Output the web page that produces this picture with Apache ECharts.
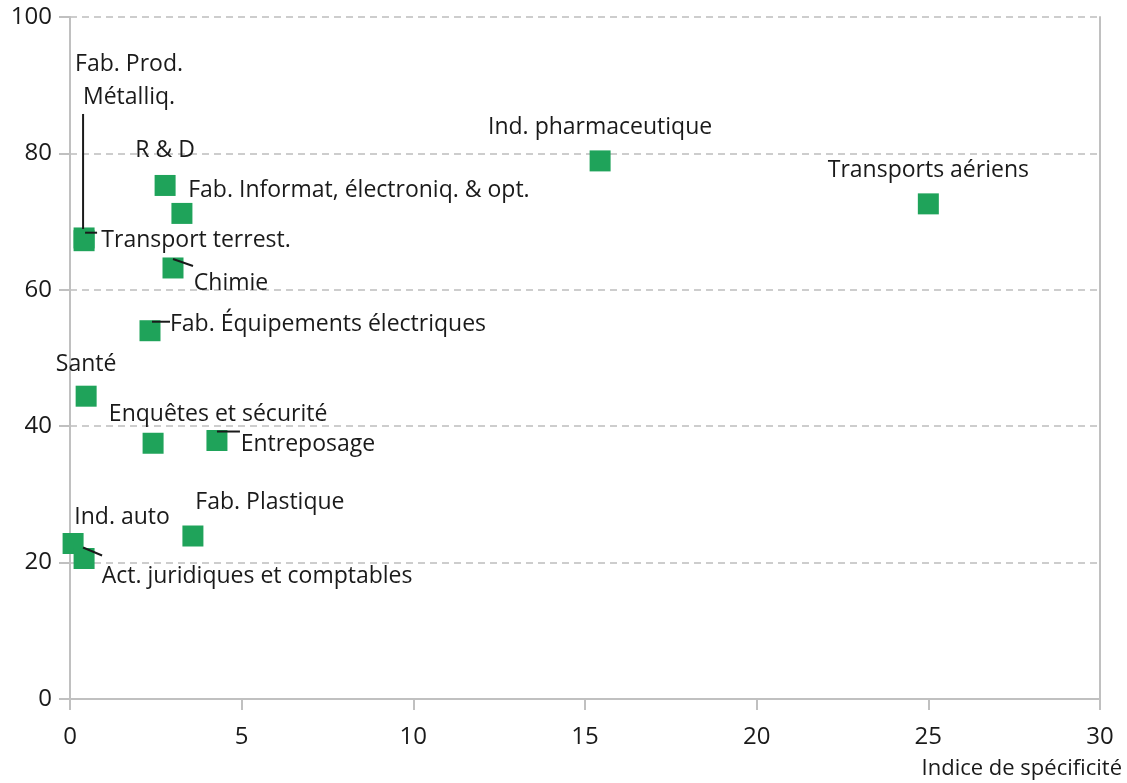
<!DOCTYPE html>
<html>
<head>
<meta charset="utf-8">
<script src="https://cdn.jsdelivr.net/npm/echarts@6/dist/echarts.min.js"></script>
<style>
html,body{margin:0;padding:0;background:#fff;}
#chart{width:1127px;height:783px;}
</style>
</head>
<body>
<div id="chart"></div>
<script>
// Data
const sectors = [
  "Fab. Prod.\nMétalliq.",
  "Transport terrest.",
  "R & D",
  "Fab. Informat, électroniq. & opt.",
  "Chimie",
  "Fab. Équipements électriques",
  "Santé",
  "Enquêtes et sécurité",
  "Entreposage",
  "Fab. Plastique",
  "Ind. auto",
  "Act. juridiques et comptables",
  "Ind. pharmaceutique",
  "Transports aériens"
];
const specificity = [0.41, 0.41, 2.77, 3.26, 3.0, 2.33, 0.47, 2.42, 4.28, 3.58, 0.09, 0.41, 15.44, 25.0];
const shareValues = [67.6, 67.2, 75.3, 71.2, 63.2, 54.0, 44.4, 37.5, 37.9, 23.9, 22.8, 20.6, 78.9, 72.6];
const xTicks = [0, 5, 10, 15, 20, 25, 30];
const yTicks = [0, 20, 40, 60, 80, 100];

// Label placement (pixel offsets of the label centre from the marker centre)
const labelOffsets = [
  [45, -157], [112, 0], [0, -35], [177, -23], [58, 15], [178, -6], [0, -32],
  [65, -29], [91, 4], [77, -34], [49, -26], [173, 18], [0, -33], [0, -33]
];
// Leader lines (pixel offsets from the marker centre: start, end), null = none
const leaderOffsets = [
  [[-1, -124], [-1, -9]], [[1, -8], [13, -8]], null, null, [[0, -9], [20, -2]],
  [[2, -9], [20, -9]], null, null, [[0, -9], [23, -9]], null, null,
  [[-1, -11], [18, -3]], null, null
];

const points = sectors.map((name, i) => ({ name: name, value: [specificity[i], shareValues[i]] }));
const leaderData = [];
sectors.forEach((name, i) => { if (leaderOffsets[i]) leaderData.push({ value: [specificity[i], shareValues[i], i] }); });

const chart = echarts.init(document.getElementById('chart'));
const font = '"Open Sans", "Noto Sans", sans-serif';
const ink = '#1a1a1a';
chart.setOption({
  animation: false,
  grid: { left: 70, right: 27, top: 17, bottom: 84 },
  xAxis: {
    type: 'value', min: 0, max: 30, interval: 5,
    name: 'Indice de spécificité',
    nameLocation: 'end',
    nameGap: 22,
    nameTextStyle: { fontFamily: font, fontSize: 22, color: ink, align: 'right', verticalAlign: 'top', padding: [59, 0, 0, 0] },
    axisLine: { show: true, lineStyle: { color: '#c0c0c0', width: 2 } },
    axisTick: { show: true, length: 11, lineStyle: { color: '#c0c0c0', width: 2 } },
    axisLabel: { fontFamily: font, fontSize: 24, color: ink, margin: 26,
      formatter: v => xTicks.includes(v) ? String(v) : '' },
    splitLine: { show: false }
  },
  yAxis: [{
    type: 'value', min: 0, max: 100, interval: 20,
    axisLine: { show: true, lineStyle: { color: '#c0c0c0', width: 2 } },
    axisTick: { show: true, length: 11, lineStyle: { color: '#c0c0c0', width: 2 } },
    axisLabel: { fontFamily: font, fontSize: 24, color: ink, margin: 18,
      formatter: v => yTicks.includes(v) ? String(v) : '' },
    splitLine: { show: true, lineStyle: { color: '#cdcdcd', type: [7, 5], width: 2 } }
  }, {
    type: 'value', min: 0, max: 100, interval: 20, position: 'right',
    axisLine: { show: true, lineStyle: { color: '#c0c0c0', width: 2 } },
    axisTick: { show: false }, axisLabel: { show: false }, splitLine: { show: false }
  }],
  series: [{
    type: 'custom',
    data: leaderData,
    z: 3,
    silent: true,
    renderItem: function (params, api) {
      const c = api.coord([api.value(0), api.value(1)]);
      const seg = leaderOffsets[api.value(2)];
      return {
        type: 'polyline',
        shape: { points: [[c[0] + seg[0][0], c[1] + seg[0][1]], [c[0] + seg[1][0], c[1] + seg[1][1]]] },
        style: { stroke: ink, lineWidth: 2, fill: null }
      };
    }
  }, {
    type: 'scatter',
    symbol: 'rect',
    symbolSize: 21,
    z: 2,
    itemStyle: { color: '#1fa35a', opacity: 1 },
    data: points,
    label: {
      show: true,
      position: 'inside',
      formatter: p => p.name,
      fontFamily: font, fontSize: 23, color: ink, lineHeight: 33,
      align: 'center', verticalAlign: 'middle'
    },
    labelLayout: function (params) {
      const o = labelOffsets[params.dataIndex];
      return { dx: o[0], dy: o[1] };
    }
  }]
});
</script>
</body>
</html>
